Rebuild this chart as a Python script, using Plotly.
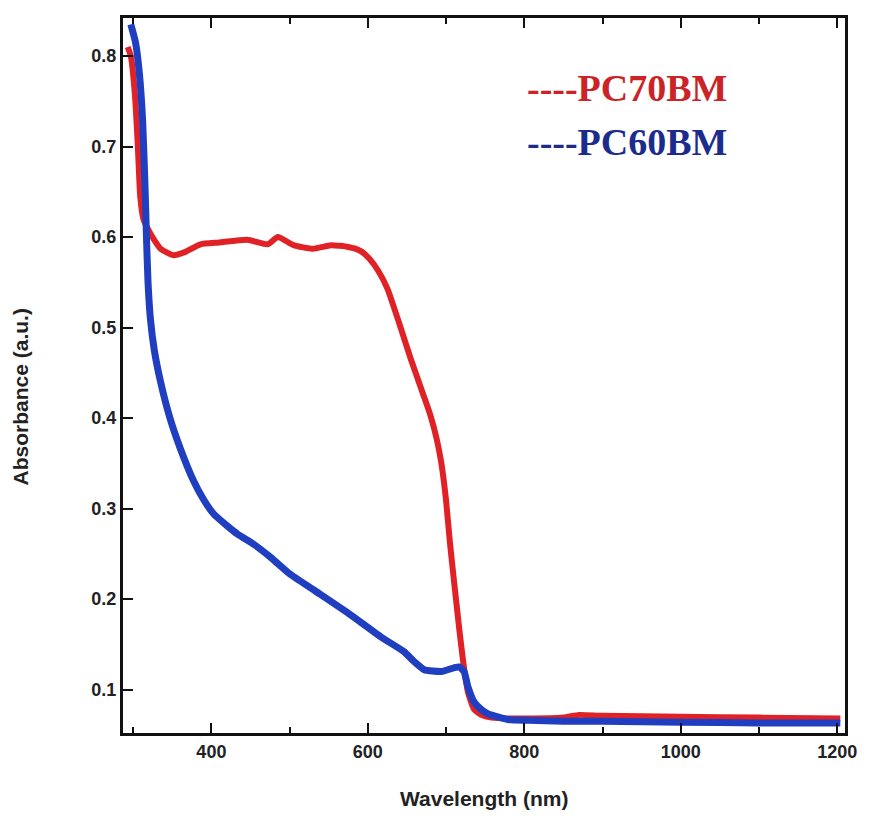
import plotly.graph_objects as go

# PC70BM (red)
wl_pc70 = [293, 297, 302, 306, 309, 313, 320, 326, 335, 351, 365, 386, 410, 446, 472, 485, 505,
           530, 553, 575, 590, 602, 613, 625, 640, 655, 670, 680, 688, 694, 700, 705, 710, 717,
           722, 728, 736, 745, 758, 800, 850, 870, 900, 1000, 1100, 1204]
abs_pc70 = [0.81, 0.80, 0.76, 0.70, 0.645, 0.62, 0.607, 0.598, 0.587, 0.58, 0.583, 0.592, 0.594,
            0.597, 0.592, 0.60, 0.591, 0.587, 0.591, 0.589, 0.585, 0.576, 0.563, 0.543, 0.505,
            0.465, 0.428, 0.403, 0.377, 0.350, 0.309, 0.262, 0.221, 0.166, 0.13, 0.097, 0.078,
            0.072, 0.069, 0.068, 0.069, 0.072, 0.071, 0.070, 0.069, 0.068]

# PC60BM (blue)
wl_pc60 = [297, 303, 308, 312, 315, 317, 319, 322, 327, 335, 347, 360, 377, 390, 403, 420, 433,
           455, 476, 500, 531, 574, 617, 646, 659, 672, 694, 710, 717, 723, 728, 736, 745, 754,
           779, 805, 850, 900, 1000, 1100, 1204]
abs_pc60 = [0.835, 0.815, 0.78, 0.73, 0.66, 0.60, 0.55, 0.51, 0.475, 0.44, 0.40, 0.367, 0.331,
            0.31, 0.294, 0.281, 0.272, 0.26, 0.246, 0.228, 0.21, 0.185, 0.158, 0.142, 0.131,
            0.122, 0.12, 0.124, 0.125, 0.12, 0.103, 0.086, 0.078, 0.073, 0.067, 0.066, 0.065,
            0.065, 0.064, 0.063, 0.063]

x_ticks = [400, 600, 800, 1000, 1200]
y_ticks = [0.1, 0.2, 0.3, 0.4, 0.5, 0.6, 0.7, 0.8]

fig = go.Figure()
fig.add_trace(go.Scatter(x=wl_pc70, y=abs_pc70, mode="lines", name="PC70BM",
                         line=dict(color="#e02226", width=6, shape="spline", smoothing=0.5)))
fig.add_trace(go.Scatter(x=wl_pc60, y=abs_pc60, mode="lines", name="PC60BM",
                         line=dict(color="#1f3fc0", width=7, shape="spline", smoothing=0.5)))

tickfont = dict(family="Liberation Sans, Arial", size=18, color="#222", weight="bold")

fig.update_xaxes(range=[287, 1210], tickvals=x_ticks, ticks="inside", ticklen=10, tickwidth=2,
                 tickcolor="#111", showline=True, linecolor="#111", linewidth=3, mirror="ticks",
                 showgrid=False, zeroline=False, tickfont=tickfont,
                 minor=dict(tickvals=[300, 500, 700, 900, 1100], ticks="inside", ticklen=6,
                            tickwidth=2, tickcolor="#111"))
fig.update_yaxes(range=[0.052, 0.842], tickvals=y_ticks, ticktext=[f"{v:.1f}" for v in y_ticks],
                 ticks="inside", ticklen=10, tickwidth=2, tickcolor="#111", showline=True,
                 linecolor="#111", linewidth=3, mirror=True, showgrid=False, zeroline=False,
                 tickfont=tickfont)

fig.add_annotation(text="----PC70BM", xref="paper", yref="paper", x=0.557, y=0.902,
                   xanchor="left", yanchor="middle", showarrow=False,
                   font=dict(family="Liberation Serif, Times New Roman", size=38,
                             color="#cc2426", weight="bold"))
fig.add_annotation(text="----PC60BM", xref="paper", yref="paper", x=0.557, y=0.827,
                   xanchor="left", yanchor="middle", showarrow=False,
                   font=dict(family="Liberation Serif, Times New Roman", size=38,
                             color="#1c2c8c", weight="bold"))
fig.add_annotation(text="Wavelength (nm)", xref="paper", yref="paper", x=0.5, y=-0.092,
                   xanchor="center", yanchor="middle", showarrow=False,
                   font=dict(family="Liberation Sans, Arial", size=21, color="#222", weight="bold"))
fig.add_annotation(text="Absorbance (a.u.)", xref="paper", yref="paper", x=-0.142, y=0.47,
                   xanchor="center", yanchor="middle", showarrow=False, textangle=-90,
                   font=dict(family="Liberation Sans, Arial", size=21, color="#222", weight="bold"))

fig.update_layout(width=862, height=811, margin=dict(l=115, r=25, t=7, b=86),
                  plot_bgcolor="white", paper_bgcolor="white", showlegend=False)

fig.write_html("out.html")
